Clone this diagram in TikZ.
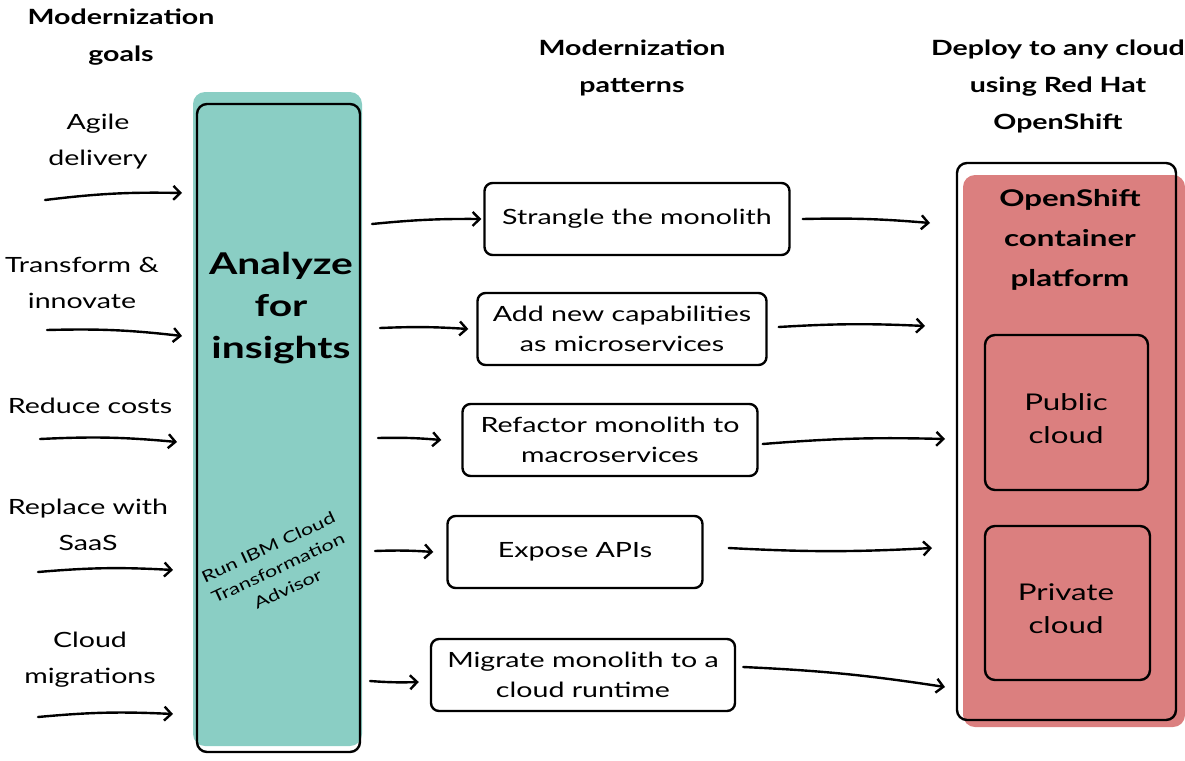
\documentclass[tikz,border=0pt]{standalone}
\usepackage{fontspec}
\setmainfont{Lato}[FakeStretch=1.36]
\usetikzlibrary{arrows.meta}
\definecolor{teal1}{RGB}{138,206,196}
\definecolor{red1}{RGB}{219,127,127}
\tikzset{
  ln/.style={line width=2.4pt, line cap=round, line join=round},
  arr/.style={ln, -{Straight Barb[length=7pt,width=14pt,line width=2.4pt]}},
  pbox/.style={ln, draw, rounded corners=8pt, minimum height=72pt, align=center, font=\fontsize{21}{30}\selectfont},
  txt/.style={align=center, font=\fontsize{21}{36}\selectfont},
  head/.style={align=center, font=\fontsize{21}{37}\selectfont\bfseries},
}
\begin{document}
\begin{tikzpicture}[x=1pt,y=-1pt]
\useasboundingbox (0,0) rectangle (1185,760);
% headings
\node[head] (h1) at (121,37) {Modernization\\goals};
\node[head] (h2) at (632,68) {Modernization\\patterns};
\node[head] (h3) at (1058,86) {Deploy to any cloud\\using Red Hat\\OpenShift};
% teal column
\fill[teal1, rounded corners=12pt] (193,92) rectangle (362,746);
\draw[ln, rounded corners=10pt] (197,104) rectangle (360,752);
\node[align=center, font=\fontsize{30}{42}\selectfont\bfseries] (an) at (281,308) {Analyze\\for\\insights};
\node[align=center, rotate=25, font=\fontsize{16}{23}\selectfont] (run) at (278,568) {Run IBM Cloud\\Transformation\\Advisor};
% red column
\fill[red1, rounded corners=12pt] (963,175) rectangle (1185,727);
\draw[ln, rounded corners=10pt] (957,163) rectangle (1176,720);
\node[head, font=\fontsize{23}{40}\selectfont\bfseries] (os) at (1070,240) {OpenShift\\container\\platform};
\draw[ln, rounded corners=10pt] (985,335) rectangle (1148,490);
\node[txt, font=\fontsize{23}{33}\selectfont] (pub) at (1066,419) {Public\\cloud};
\draw[ln, rounded corners=10pt] (985,526) rectangle (1150,680);
\node[txt, font=\fontsize{23}{33}\selectfont] (priv) at (1066,609) {Private\\cloud};
% left labels
\node[txt] (g1) at (98,142) {Agile\\delivery};
\node[txt] (g2) at (82,283) {Transform \&\\innovate};
\node[txt] (g3) at (90,406) {Reduce costs};
\node[txt] (g4) at (88,525) {Replace with\\SaaS};
\node[txt] (g5) at (90,660) {Cloud\\migrations};
% left arrows
\coordinate (a1s) at (45,200); \coordinate (a1e) at (182,193);
\coordinate (a2s) at (47,330); \coordinate (a2e) at (182,336);
\coordinate (a3s) at (40,439); \coordinate (a3e) at (177,442);
\coordinate (a4s) at (38,572); \coordinate (a4e) at (173,570);
\coordinate (a5s) at (38,717); \coordinate (a5e) at (173,714);
\foreach \i in {1,...,5} {\draw[arr] (a\i s) to[bend left=4] (a\i e);}
% pattern boxes
\node[pbox, minimum width=305pt] (p1) at (637,219) {Strangle the monolith};
\node[pbox, minimum width=289pt] (p2) at (622,329) {Add new capabilities\\as microservices};
\node[pbox, minimum width=295pt] (p3) at (610,440) {Refactor monolith to\\macroservices};
\node[pbox, minimum width=255pt] (p4) at (575,552) {Expose APIs};
\node[pbox, minimum width=304pt] (p5) at (583,675) {Migrate monolith to a\\cloud runtime};
% arrows teal -> boxes
\coordinate (b1) at (372,224); \coordinate (b2) at (380,328); \coordinate (b3) at (378,438);
\coordinate (b4) at (375,551); \coordinate (b5) at (370,681);
\draw[arr] (b1) to[bend left=3] ([xshift=-2pt]p1.west);
\draw[arr] (b2) to[bend left=3] ([xshift=-8pt]p2.west);
\draw[arr] (b3) to[bend left=3] ([xshift=-20pt]p3.west);
\draw[arr] (b4) to[bend left=3] ([xshift=-13pt]p4.west);
\draw[arr] (b5) to[bend right=3] ([xshift=-11pt,yshift=-7pt]p5.west);
% arrows boxes -> red
\coordinate (c1) at (930,223); \coordinate (c2) at (925,326); \coordinate (c3) at (945,439);
\coordinate (c4) at (932,548); \coordinate (c5) at (945,687);
\draw[arr] ([xshift=12pt]p1.east) to[bend left=3] (c1);
\draw[arr] ([xshift=11pt,yshift=2pt]p2.east) to[bend left=3] (c2);
\draw[arr] ([xshift=4pt,yshift=-4pt]p3.east) to[bend left=3] (c3);
\draw[arr] ([xshift=25pt,yshift=4pt]p4.east) to[bend right=3] (c4);
\draw[arr] ([xshift=7pt,yshift=8pt]p5.east) to[bend left=3] (c5);
\end{tikzpicture}
\end{document}
